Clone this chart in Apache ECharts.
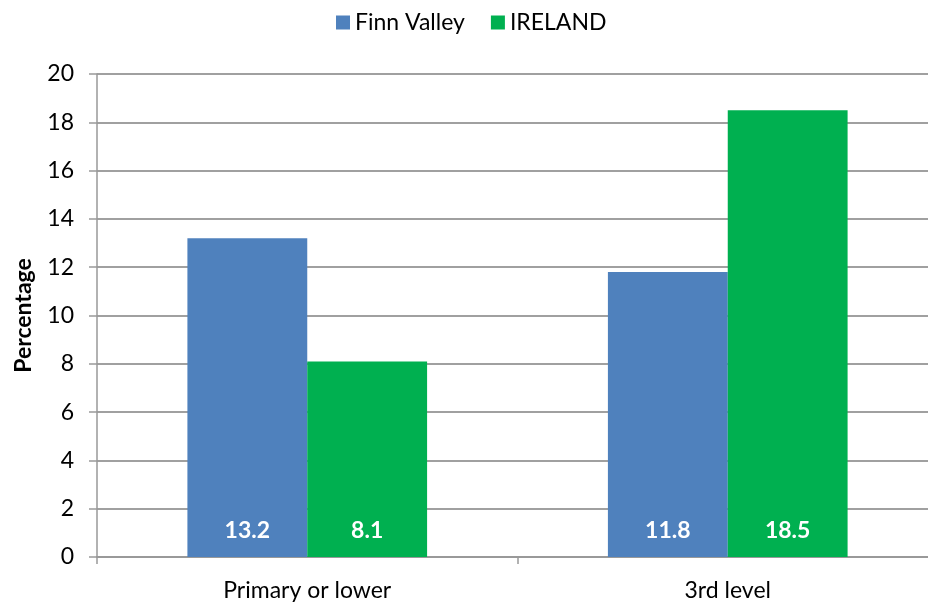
<!DOCTYPE html>
<html>
<head>
<meta charset="utf-8">
<script src="https://cdn.jsdelivr.net/npm/echarts@6/dist/echarts.min.js"></script>
<style>
  html, body { margin: 0; padding: 0; background: #fff; overflow: hidden; }
  #chart { width: 938px; height: 606px; }
</style>
</head>
<body>
<div id="chart"></div>
<script>
var categories = ['Primary or lower', '3rd level'];
var finnValley = [13.2, 11.8];
var ireland = [8.1, 18.5];

var font = 'Lato, "Open Sans", sans-serif';

var labelStyle = {
    show: true,
    position: 'insideBottom',
    distance: 15,
    color: '#fff',
    fontWeight: 'bold',
    fontSize: 23,
    fontFamily: font
};

var chart = echarts.init(document.getElementById('chart'));
chart.setOption({
    animation: false,
    color: ['#4F81BD', '#00B050'],
    legend: {
        top: 6,
        left: 331,
        itemWidth: 14,
        itemHeight: 14,
        itemGap: 26,
        icon: 'rect',
        textStyle: { fontSize: 23, fontFamily: font, color: '#000' },
        data: ['Finn Valley', 'IRELAND']
    },
    grid: {
        left: 97,
        right: 0,
        top: 74,
        bottom: 49
    },
    xAxis: {
        type: 'category',
        data: categories,
        axisLine: { lineStyle: { color: '#999', width: 2 } },
        axisTick: { show: true, length: 7, alignWithLabel: false, lineStyle: { color: '#999', width: 1.5 } },
        axisLabel: { fontSize: 23, fontFamily: font, color: '#000', margin: 22 }
    },
    yAxis: {
        type: 'value',
        min: 0,
        max: 20,
        interval: 2,
        name: 'Percentage',
        nameLocation: 'middle',
        nameGap: 62,
        nameTextStyle: { fontSize: 23, fontWeight: 'bold', fontFamily: font, color: '#000' },
        axisLine: { show: true, lineStyle: { color: '#999', width: 1.5 } },
        axisTick: { show: true, length: 8, inside: false, lineStyle: { color: '#999', width: 1.5 } },
        axisLabel: { fontSize: 23, fontFamily: font, color: '#000', margin: 23 },
        splitLine: { lineStyle: { color: '#a0a0a0', width: 2 } }
    },
    series: [
        {
            name: 'Finn Valley',
            type: 'bar',
            data: finnValley,
            barGap: '0%',
            barCategoryGap: '43%',
            label: labelStyle
        },
        {
            name: 'IRELAND',
            type: 'bar',
            data: ireland,
            label: labelStyle
        }
    ]
});
</script>
</body>
</html>
